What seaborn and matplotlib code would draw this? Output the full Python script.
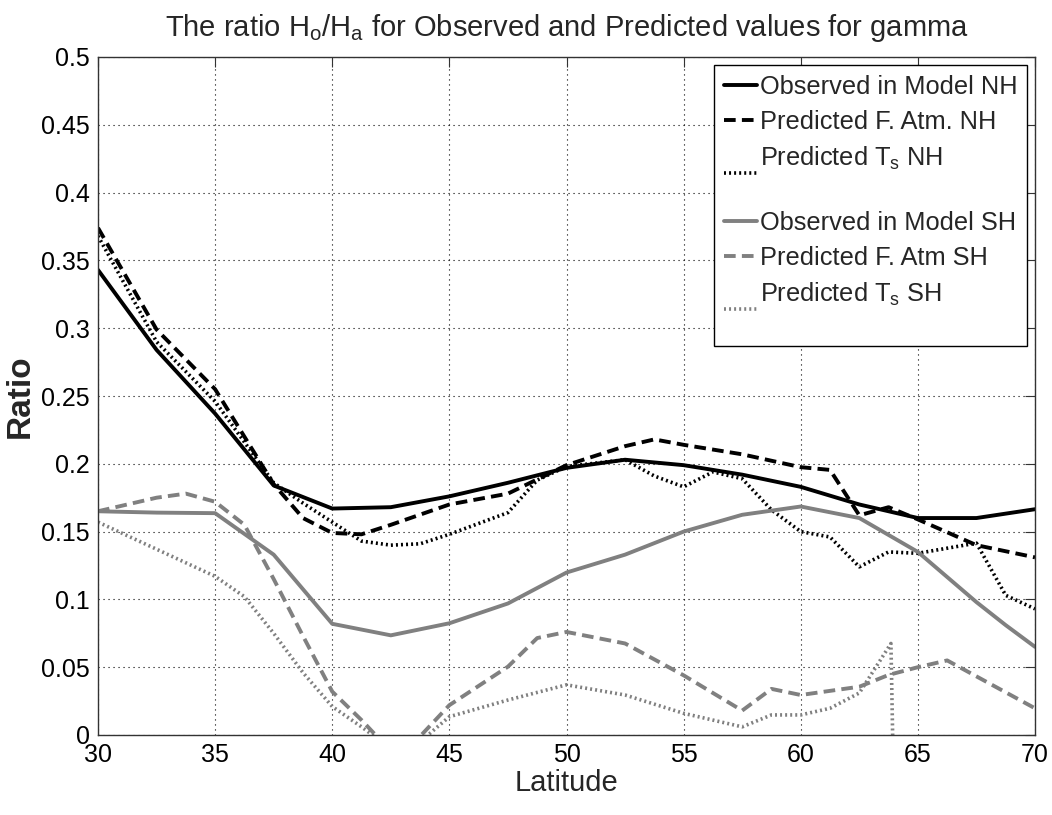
import numpy as np
import pandas as pd
import matplotlib
matplotlib.use("Agg")
import matplotlib.pyplot as plt
from matplotlib import font_manager as fm
import seaborn as sns

# ---------------- data ----------------
lat_obs_nh = [30, 32.5, 35, 37.5, 40, 42.5, 45, 47.5, 50, 52.5, 55, 57.5, 60, 62.5, 65, 67.5, 70]
obs_nh = [0.343, 0.284, 0.237, 0.184, 0.167, 0.168, 0.176, 0.186, 0.197, 0.203, 0.199, 0.192,
          0.183, 0.170, 0.160, 0.160, 0.1665]

lat_fatm_nh = [30, 32.5, 35, 37.5, 38.75, 40, 41.25, 42.5, 45, 47.5, 50, 52.5, 53.75, 55, 57.5,
               60, 61.25, 62.5, 63.75, 65, 67.5, 70]
fatm_nh = [0.374, 0.299, 0.255, 0.185, 0.160, 0.149, 0.148, 0.155, 0.170, 0.178, 0.199, 0.213,
           0.218, 0.214, 0.207, 0.1975, 0.1955, 0.162, 0.168, 0.159, 0.140, 0.131]

lat_ts_nh = [30, 32.5, 35, 37.5, 38.75, 40, 41.25, 42.5, 43.75, 45, 47.5, 48.75, 50, 52.5, 53.75,
             55, 56.25, 57.5, 58.75, 60, 61.25, 62.5, 63.75, 65, 67.5, 68.75, 70]
ts_nh = [0.368, 0.290, 0.246, 0.186, 0.171, 0.157, 0.143, 0.140, 0.141, 0.148, 0.164, 0.188,
         0.198, 0.203, 0.191, 0.183, 0.194, 0.189, 0.166, 0.150, 0.146, 0.124, 0.135, 0.134,
         0.1415, 0.103, 0.093]

lat_obs_sh = [30, 32.5, 35, 37.5, 40, 42.5, 45, 47.5, 50, 52.5, 55, 57.5, 60, 62.5, 65, 67.5,
              68.75, 70]
obs_sh = [0.165, 0.164, 0.1636, 0.133, 0.082, 0.0735, 0.0824, 0.097, 0.1198, 0.133, 0.150,
          0.1624, 0.1685, 0.160, 0.135, 0.098, 0.081, 0.065]

lat_fatm_sh = [30, 32.5, 33.75, 35, 36.25, 37.5, 38.75, 40, 41.25, 42.5, 43.75, 45, 47.5, 48.75,
               50, 52.5, 55, 57.5, 58.75, 60, 62.5, 63.75, 65, 66.25, 70]
fatm_sh = [0.165, 0.175, 0.178, 0.172, 0.155, 0.115, 0.073, 0.032, 0.011, -0.012, -0.001, 0.022,
           0.0504, 0.0715, 0.076, 0.0675, 0.044, 0.018, 0.034, 0.0295, 0.0356, 0.0443, 0.050,
           0.055, 0.0197]

lat_ts_sh = [30, 32.5, 35, 36.25, 37.5, 38.75, 40, 41.25, 42.5, 43.75, 45, 47.5, 50, 52.5, 55,
             57.5, 58.75, 60, 61.25, 62.5, 63.5, 63.85, 65, 67.5, 70]
ts_sh = [0.157, 0.137, 0.117, 0.102, 0.075, 0.046, 0.021, 0.006, -0.010, -0.005, 0.0135, 0.0258,
         0.037, 0.0295, 0.016, 0.006, 0.0148, 0.0148, 0.0197, 0.031, 0.058, 0.0675, -1.0, -1.0,
         -1.0]

labels = ["Observed in Model NH", "Predicted F. Atm. NH", "Predicted T$_\\mathregular{s}$ NH\n",
          "Observed in Model SH", "Predicted F. Atm SH", "Predicted T$_\\mathregular{s}$ SH\n"]

xticks = [30, 35, 40, 45, 50, 55, 60, 65, 70]
yticks = [0, 0.05, 0.1, 0.15, 0.2, 0.25, 0.3, 0.35, 0.4, 0.45, 0.5]
ytick_labels = ["0", "0.05", "0.1", "0.15", "0.2", "0.25", "0.3", "0.35", "0.4", "0.45", "0.5"]

title = "The ratio H$_\\mathregular{o}$/H$_\\mathregular{a}$ for Observed and Predicted values for gamma"

# ---------------- style ----------------
sns.set_theme(style="white")


def pick_font():
    for f in ["Liberation Sans Narrow", "Liberation Sans", "DejaVu Sans"]:
        try:
            fm.findfont(f, fallback_to_default=False)
            return f
        except Exception:
            pass
    return "DejaVu Sans"


fam = pick_font()
plt.rcParams["font.family"] = [fam, "DejaVu Sans"]
plt.rcParams["mathtext.fontset"] = "custom"
plt.rcParams["mathtext.rm"] = fam
fs_tick = 18
fs_leg = 18.3
fs_title = 21
fs_xlab = 21
fs_ylab = 24

fig = plt.figure(figsize=(10.52, 8.15), dpi=100)
ax = fig.add_axes([98 / 1052, 80 / 815, (1035 - 98) / 1052, (735 - 57) / 815])

black = "#000000"
gray = "#808080"
solid = "-"
dashed = (0, (3.0, 1.6))
dotted = (0, (0.55, 0.85))

series = [
    (lat_obs_nh, obs_nh, black, solid, 2.8),
    (lat_fatm_nh, fatm_nh, black, dashed, 2.8),
    (lat_ts_nh, ts_nh, black, dotted, 2.6),
    (lat_obs_sh, obs_sh, gray, solid, 2.8),
    (lat_fatm_sh, fatm_sh, gray, dashed, 2.8),
    (lat_ts_sh, ts_sh, gray, dotted, 2.6),
]

for (x, y, c, ls, lw), lab in zip(series, labels):
    sns.lineplot(x=x, y=y, ax=ax, color=c, linestyle=ls, linewidth=lw, label=lab,
                 estimator=None, sort=False)

ax.set_xlim(30, 70)
ax.set_ylim(0, 0.5)
ax.set_xticks(xticks)
ax.set_xticklabels([str(t) for t in xticks])
ax.set_yticks(yticks)
ax.set_yticklabels(ytick_labels)
ax.tick_params(direction="in", length=7, width=0.8, top=True, right=True,
               labelsize=fs_tick, pad=6, colors="#333333", labelcolor="black")
ax.grid(True, linestyle=(0, (1, 3.5)), color="black", linewidth=0.8)
for s in ax.spines.values():
    s.set_color("#333333")
    s.set_linewidth(1.0)

ax.set_title(title, fontsize=fs_title, pad=15)
ax.set_xlabel("Latitude", fontsize=fs_xlab, labelpad=1)
ax.set_ylabel("Ratio", fontsize=fs_ylab, fontweight="bold")
ax.yaxis.set_label_coords(-0.066, 0.5)

leg = ax.legend(loc="upper right", fontsize=fs_leg, frameon=True, fancybox=False,
                edgecolor="black", framealpha=1, handlelength=1.3, handletextpad=0.1,
                labelspacing=0.43, borderpad=0.4, borderaxespad=0.3)
leg.get_frame().set_linewidth(1.0)

fig.savefig("out.png", dpi=100)
